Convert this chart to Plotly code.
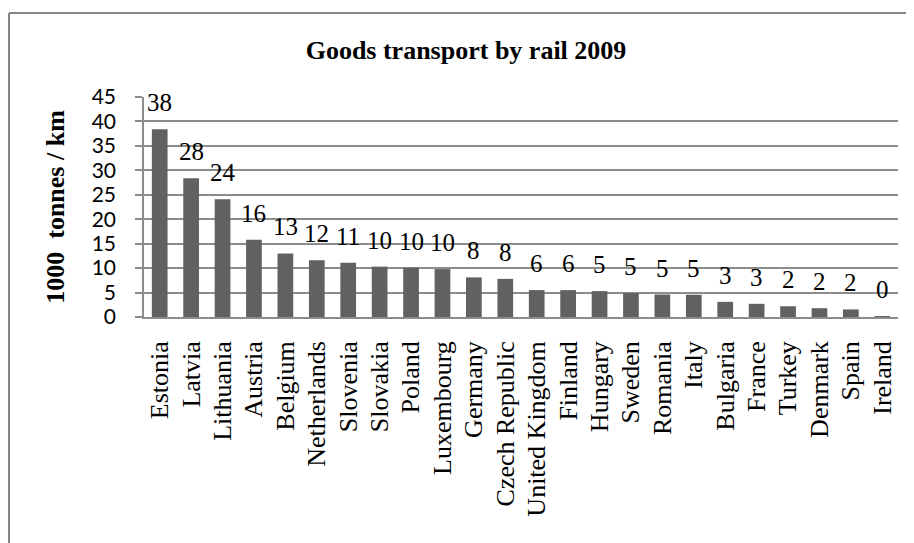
import plotly.graph_objects as go

countries = ["Estonia", "Latvia", "Lithuania", "Austria", "Belgium", "Netherlands",
             "Slovenia", "Slovakia", "Poland", "Luxembourg", "Germany", "Czech Republic",
             "United Kingdom", "Finland", "Hungary", "Sweden", "Romania", "Italy",
             "Bulgaria", "France", "Turkey", "Denmark", "Spain", "Ireland"]
values = [38.4, 28.4, 24.1, 15.8, 13.0, 11.6, 11.1, 10.3, 10.1, 9.8, 8.1, 7.8,
          5.5, 5.5, 5.3, 4.9, 4.6, 4.55, 3.1, 2.7, 2.2, 1.8, 1.55, 0.2]
value_labels = [str(int(v + 0.5)) for v in values]
y_ticks = [0, 5, 10, 15, 20, 25, 30, 35, 40, 45]

title_text = "Goods transport by rail 2009"
y_title = "1000\u00a0\u00a0tonnes / km"

GRID = "#8c8c8c"
BAR = "#616161"
SERIF = "Liberation Serif, Times New Roman, serif"
SANS = "Lato, Carlito, Calibri, sans-serif"

# page body has an 8px default margin, so the figure is laid out 8px up/left
W, H = 906, 535
L, T, R, B = 136, 89, 16, 226
PW, PH = W - L - R, H - T - B

fig = go.Figure()
fig.add_trace(go.Bar(
    x=countries, y=values,
    marker=dict(color=BAR, line=dict(width=0)),
    hoverinfo="x+y",
))

annotations = []
for c, v, t in zip(countries, values, value_labels):
    annotations.append(dict(
        x=c, y=v, xref="x", yref="y", text=t, showarrow=False,
        yanchor="bottom", xanchor="center", yshift=11,
        font=dict(family=SERIF, size=25, color="#000000"),
    ))

fig.update_layout(
    width=W, height=H,
    margin=dict(l=L, r=R, t=T, b=B, pad=0),
    paper_bgcolor="#ffffff", plot_bgcolor="#ffffff",
    bargap=0.5,
    showlegend=False,
    title=dict(text="<b>" + title_text + "</b>", x=(466 - 8 - L) / PW * PW / W + L / W,
               xanchor="center", xref="container",
               y=1 - 42 / H, yanchor="middle", yref="container",
               font=dict(family=SERIF, size=26, color="#000000")),
    annotations=annotations,
    xaxis=dict(
        type="category", tickangle=-90,
        tickfont=dict(family=SERIF, size=26, color="#000000"),
        ticklabelstandoff=12,
        showline=True, linecolor=GRID, linewidth=1.5,
        showgrid=False, ticks="", ticklen=0,
    ),
    yaxis=dict(
        range=[0, 45], tickvals=y_ticks,
        tickfont=dict(family=SANS, size=21, color="#000000"),
        ticklabelstandoff=15,
        showline=True, linecolor=GRID, linewidth=1.5,
        showgrid=True, gridcolor=GRID, gridwidth=1.5,
        ticks="outside", ticklen=7, tickcolor=GRID, tickwidth=1.5,
        zeroline=False,
        title=dict(text="<b>" + y_title + "</b>", standoff=20,
                   font=dict(family=SERIF, size=26, color="#000000")),
    ),
    shapes=[
        dict(type="line", xref="paper", yref="paper",
             x0=(1 - L) / PW, x1=(W - L) / PW,
             y0=(PH + T - 5) / PH, y1=(PH + T - 5) / PH,
             line=dict(color="#868686", width=2)),
        dict(type="line", xref="paper", yref="paper",
             x0=(1 - L) / PW, x1=(1 - L) / PW,
             y0=(PH + T - 5) / PH, y1=(PH + T - H) / PH,
             line=dict(color="#868686", width=2)),
    ],
)

fig.write_html("out.html")
